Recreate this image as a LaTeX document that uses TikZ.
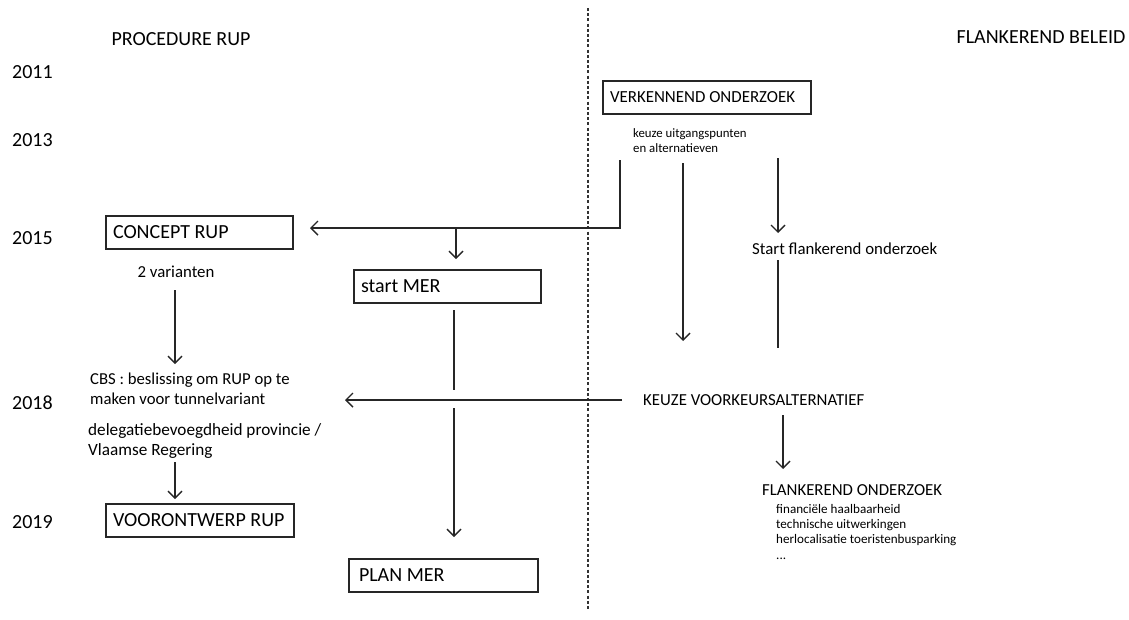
\documentclass[tikz,border=0pt]{standalone}
\usepackage{fontspec}
\setmainfont{Carlito}
\usetikzlibrary{arrows.meta}
\newcommand{\fsz}[1]{\fontsize{#1}{#1}\selectfont}
\tikzset{
  ln/.style={line width=1.4pt, draw=black!85},
  arr/.style={ln, -{Straight Barb[length=7pt,width=14pt,line width=1.4pt]}},
  boxnode/.style={draw=black!85, line width=2pt, inner xsep=7pt, inner ysep=0pt,
     minimum height=33pt, anchor=north west, font=\fsz{20}},
  head/.style={inner sep=0pt, font=\fsz{20}},
  lbl/.style={inner sep=0pt, anchor=west, font=\fsz{16.8}},
  small/.style={inner sep=0pt, anchor=north west, align=left, font=\fontsize{12.8}{15}\selectfont},
  yr/.style={inner sep=0pt, anchor=west, font=\fsz{20}},
}
\begin{document}
\begin{tikzpicture}[x=1pt,y=-1pt]
\useasboundingbox (0,0) rectangle (1129,619);
% column headings
\node[head] (hrup) at (181,39) {PROCEDURE RUP};
\node[head] (hfl) at (1041,37) {FLANKEREND BELEID};
% years
\node[yr] (y2011) at (12,72) {2011};
\node[yr] (y2013) at (12,140) {2013};
\node[yr] (y2015) at (12,238) {2015};
\node[yr] (y2018) at (12,403) {2018};
\node[yr] (y2019) at (12,522) {2019};
% dashed divider
\coordinate (dtop) at (588,8);
\coordinate (dbot) at (588,611);
\draw[line width=1.6pt, draw=black!80, dash pattern=on 3pt off 2.2pt] (dtop) -- (dbot);
% boxes
\node[boxnode, minimum width=208pt, font=\fsz{16.9}] (verk) at (602,80) {\makebox[194pt][l]{VERKENNEND ONDERZOEK}};
\node[boxnode, minimum width=187pt] (concept) at (105,215) {\makebox[173pt][l]{CONCEPT RUP}};
\node[boxnode, minimum width=187pt] (mer) at (353,269) {\makebox[173pt][l]{start MER}};
\node[boxnode, minimum width=188pt] (voor) at (105,503) {\makebox[174pt][l]{VOORONTWERP RUP}};
\node[boxnode, minimum width=189pt, inner xsep=10pt] (plan) at (348,558) {\makebox[169pt][l]{PLAN MER}};
% texts
\node[small] (keuze) at (633,128) {keuze uitgangspunten\\en alternatieven};
\node[lbl, anchor=center] (var) at (176,272) {2 varianten};
\node[lbl, anchor=north west, align=left, font=\fontsize{16.7}{20}\selectfont] (cbs) at (90,373) {CBS : beslissing om RUP op te\\maken voor tunnelvariant};
\node[lbl, anchor=north west, align=left, font=\fontsize{17.2}{20}\selectfont] (deleg) at (88,423) {delegatiebevoegdheid provincie /\\Vlaamse Regering};
\node[lbl] (startfl) at (752,249) {Start flankerend onderzoek};
\node[lbl] (keuzev) at (643,400) {KEUZE VOORKEURSALTERNATIEF};
\node[lbl] (flond) at (762,490) {FLANKEREND ONDERZOEK};
\node[small, font=\fontsize{13.1}{15.3}\selectfont] (list) at (776,504) {financiële haalbaarheid\\technische uitwerkingen\\herlocalisatie toeristenbusparking\\...};
% connector coordinates
\coordinate (a1) at (620,160);
\coordinate (a1t) at (310,228);
\coordinate (b1) at (456,228);
\coordinate (b1t) at (456,259);
\coordinate (c1) at (683,163);
\coordinate (c1t) at (683,341);
\coordinate (d1) at (778,158);
\coordinate (d1t) at (778,233);
\coordinate (d2) at (778,260);
\coordinate (d2t) at (778,348);
\coordinate (e1) at (175,290);
\coordinate (e1t) at (175,364);
\coordinate (f1) at (175,462);
\coordinate (f1t) at (175,499);
\coordinate (g1) at (622,400);
\coordinate (g1t) at (345,400);
\coordinate (h1) at (454,310);
\coordinate (h1t) at (454,390);
\coordinate (h2) at (454,408);
\coordinate (h2t) at (454,537);
\coordinate (k1) at (783,415);
\coordinate (k1t) at (783,469);
% connectors
\draw[arr] (a1) |- (a1t);
\draw[arr] (b1) -- (b1t);
\draw[arr] (c1) -- (c1t);
\draw[arr] (d1) -- (d1t);
\draw[ln] (d2) -- (d2t);
\draw[arr] (e1) -- (e1t);
\draw[arr] (f1) -- (f1t);
\draw[arr] (g1) -- (g1t);
\draw[ln] (h1) -- (h1t);
\draw[arr] (h2) -- (h2t);
\draw[arr] (k1) -- (k1t);
\end{tikzpicture}
\end{document}
